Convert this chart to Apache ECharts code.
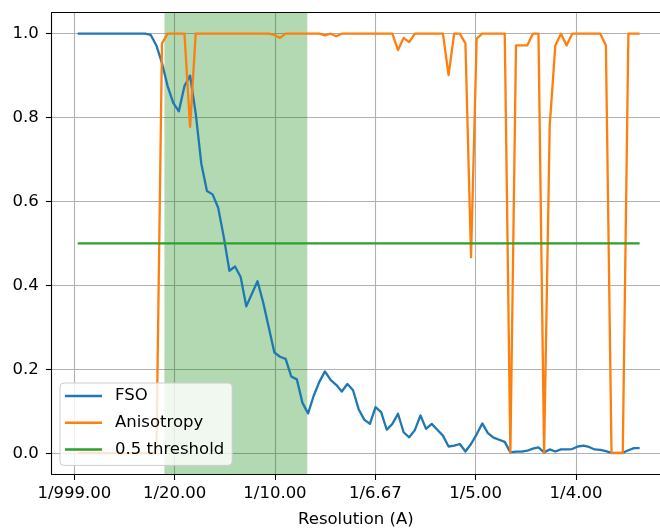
<!DOCTYPE html>
<html><head><meta charset="utf-8">
<script src="https://cdn.jsdelivr.net/npm/echarts@6/dist/echarts.min.js"></script>
<style>html,body{margin:0;padding:0;background:#fff;overflow:hidden}#c{width:660px;height:529px}</style>
</head><body><div id="c"></div>
<script>
// spatial frequency (1/A) of each shell
const freq = [
  0.0017,0.0045,0.0073,0.0101,0.0129,0.0157,0.0185,0.0213,0.0241,0.0269,
  0.0297,0.0325,0.0353,0.0381,0.0409,0.0437,0.0465,0.0493,0.0521,0.0549,
  0.0577,0.0605,0.0633,0.0661,0.0689,0.0717,0.0745,0.0773,0.0801,0.0829,
  0.0857,0.0885,0.0913,0.0941,0.0969,0.0997,0.1025,0.1053,0.1081,0.1109,
  0.1137,0.1165,0.1193,0.1221,0.1249,0.1277,0.1305,0.1333,0.1361,0.1389,
  0.1417,0.1445,0.1473,0.1501,0.1529,0.1557,0.1585,0.1613,0.1641,0.1669,
  0.1697,0.1725,0.1753,0.1781,0.1809,0.1837,0.1865,0.1893,0.1921,0.1949,
  0.1977,0.2005,0.2033,0.2061,0.2089,0.2117,0.2145,0.2173,0.2201,0.2229,
  0.2257,0.2285,0.2313,0.2341,0.2369,0.2397,0.2425,0.2453,0.2481,0.2509,
  0.2537,0.2565,0.2593,0.2621,0.2649,0.2677,0.2705,0.2733,0.2761,0.2789,
  0.2817
];
const fso = [
  1.0,1.0,1.0,1.0,1.0,1.0,1.0,1.0,1.0,1.0,
  1.0,1.0,1.0,0.997,0.972,0.93,0.875,0.835,0.815,0.875,
  0.90,0.81,0.69,0.625,0.617,0.585,0.515,0.435,0.445,0.42,
  0.35,0.38,0.41,0.36,0.30,0.24,0.23,0.225,0.183,0.176,
  0.12,0.095,0.137,0.17,0.195,0.175,0.163,0.147,0.165,0.15,
  0.105,0.08,0.07,0.11,0.098,0.056,0.07,0.094,0.05,0.038,
  0.055,0.09,0.058,0.07,0.056,0.042,0.016,0.018,0.022,0.004,
  0.022,0.045,0.071,0.048,0.037,0.032,0.027,0.002,0.004,0.004,
  0.006,0.011,0.014,0.002,0.009,0.004,0.009,0.009,0.01,0.016,
  0.018,0.015,0.009,0.008,0.005,0.001,0.001,0.001,0.007,0.012,
  0.012
];
const anisotropy = [
  0,0,0,0,0,0,0,0,0,0,
  0,0,0,0,0,0.977,1,1,1,1,
  0.778,1,1,1,1,1,1,1,1,1,
  1,1,1,1,1,0.997,0.99,1,1,1,
  1,1,1,1,0.996,1,0.994,1,1,1,
  1,1,1,1,1,1,1,0.961,0.99,0.98,
  1,1,1,1,1,1,0.901,1,1,0.977,
  0.467,0.988,1,1,1,1,1,0,0.972,0.972,
  0.972,1,1,0,0.78,0.972,1,0.972,1,1,
  1,1,1,1,0.972,0,0,0,1,1,
  1
];
const thresholdFreq = [0.0017, 0.2817];
const thresholdLevel = [0.5, 0.5];
const spanRange = [0.0449, 0.1161];
const xTicks = [0, 0.05, 0.1, 0.15, 0.2, 0.25];
const yTicks = [0, 0.2, 0.4, 0.6, 0.8, 1.0];
const seriesNames = ['FSO', 'Anisotropy', '0.5 threshold'];
const xLabel = 'Resolution (A)';

const FONT = 'DejaVu Sans';
const X_MIN = -0.01126, X_MAX = 0.29186;
function fmtX(v) {
  if (Math.abs(v) < 1e-9) return '1/999.00';
  return '1/' + (1 / v).toFixed(2);
}
const pair = (xs, ys) => xs.map((x, i) => [x, ys[i]]);

const chart = echarts.init(document.getElementById('c'), null, {renderer: 'canvas'});
chart.setOption({
  animation: false,
  backgroundColor: '#ffffff',
  grid: {left: 51.7, top: 12.7, width: 608.3, height: 461.5, show: false,
         containLabel: false, outerBoundsMode: 'none'},
  xAxis: [{
    type: 'value', min: X_MIN, max: X_MAX,
    axisLine: {show: true, onZero: false, lineStyle: {color: '#000', width: 1.1}},
    axisTick: {show: true, length: 5.8, customValues: xTicks, lineStyle: {color: '#000', width: 1.1}},
    axisLabel: {customValues: xTicks, formatter: fmtX, color: '#000', fontSize: 16.5, fontFamily: FONT, margin: 11},
    splitLine: {show: true, lineStyle: {color: '#b0b0b0', width: 1.1}},
    name: xLabel, nameLocation: 'middle', nameGap: 37,
    nameTextStyle: {color: '#000', fontSize: 16.5, fontFamily: FONT}
  }, {
    type: 'value', position: 'top', min: X_MIN, max: X_MAX,
    axisLine: {show: true, onZero: false, lineStyle: {color: '#000', width: 1.1}},
    axisTick: {show: false}, axisLabel: {show: false}, splitLine: {show: false}
  }],
  yAxis: {
    type: 'value', min: -0.05, max: 1.05,
    axisLine: {show: true, onZero: false, lineStyle: {color: '#000', width: 1.1}},
    axisTick: {show: true, length: 5.8, customValues: yTicks, lineStyle: {color: '#000', width: 1.1}},
    axisLabel: {customValues: yTicks, formatter: v => v.toFixed(1), color: '#000', fontSize: 16.5, fontFamily: FONT, margin: 13},
    splitLine: {show: true, lineStyle: {color: '#b0b0b0', width: 1.1}}
  },
  legend: {
    orient: 'vertical', left: 60, top: 383,
    itemWidth: 37, itemHeight: 2.5, icon: 'rect', itemGap: 8.7,
    padding: [4, 8, 7, 5],
    backgroundColor: 'rgba(255,255,255,0.8)', borderColor: '#cccccc', borderWidth: 1, borderRadius: 4,
    textStyle: {fontSize: 16.5, fontFamily: FONT, color: '#000', lineHeight: 18, padding: [0, 0, 0, 8]},
    data: seriesNames
  },
  series: [
    {type: 'line', name: '__span', data: [], silent: true, z: 1,
     markArea: {silent: true, itemStyle: {color: 'rgba(0,128,0,0.3)'},
                data: [[{xAxis: spanRange[0]}, {xAxis: spanRange[1]}]]}},
    {type: 'line', name: seriesNames[0], data: pair(freq, fso), symbol: 'none', z: 3,
     lineStyle: {color: '#1f77b4', width: 2.3, join: 'round'}, itemStyle: {color: '#1f77b4'}},
    {type: 'line', name: seriesNames[1], data: pair(freq, anisotropy), symbol: 'none', z: 3,
     lineStyle: {color: '#ff7f0e', width: 2.3, join: 'round'}, itemStyle: {color: '#ff7f0e'}},
    {type: 'line', name: seriesNames[2], data: pair(thresholdFreq, thresholdLevel), symbol: 'none', z: 3,
     lineStyle: {color: '#2ca02c', width: 2.3}, itemStyle: {color: '#2ca02c'}}
  ]
});
</script>
</body></html>
